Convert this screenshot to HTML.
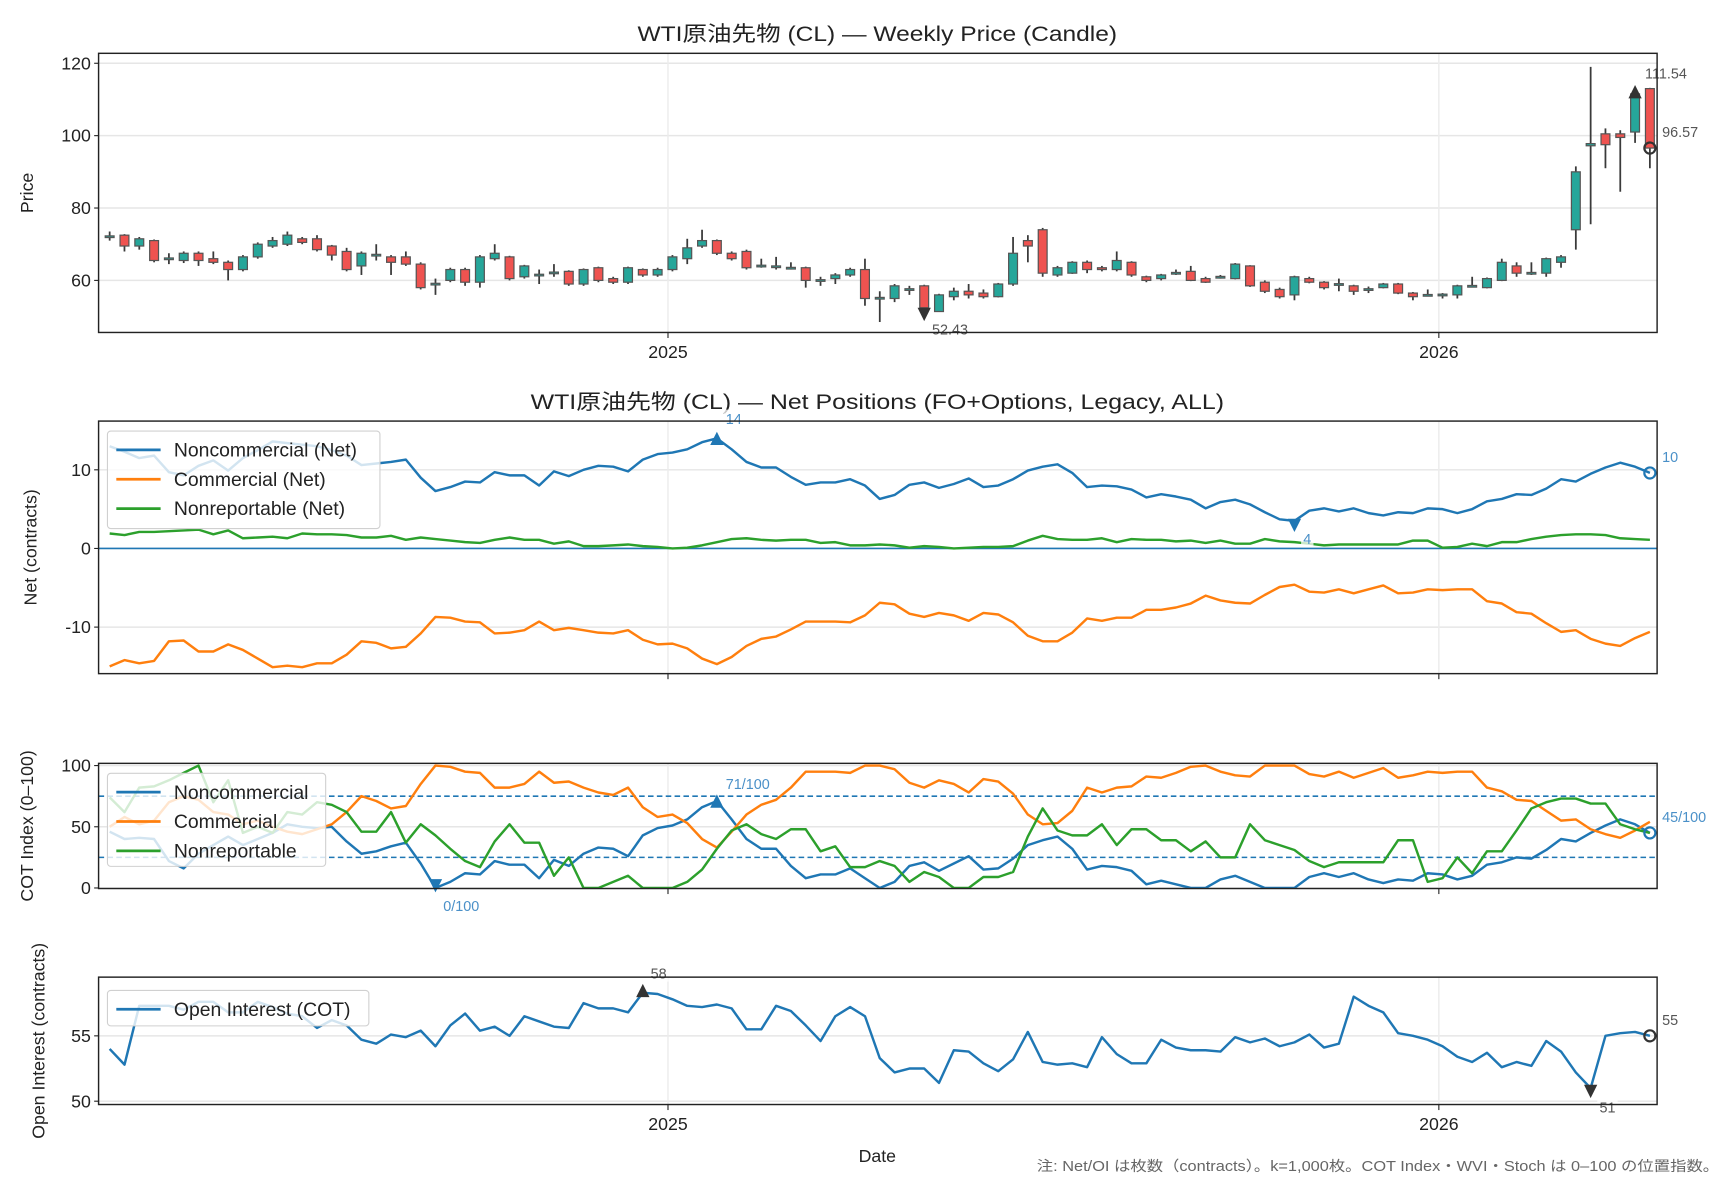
<!DOCTYPE html>
<html><head><meta charset="utf-8">
<style>
html,body{margin:0;padding:0;background:#fff;}
svg{display:block;font-family:"Liberation Sans","Noto Sans CJK JP",sans-serif;}
</style></head>
<body>
<svg id="chart" width="1728" height="1180" viewBox="0 0 1560 1065" xmlns="http://www.w3.org/2000/svg"></svg>
<script>
// ---- data ----
const opens  = [72,72.5,69.5,71,65.8,65.5,67.5,66,65,63,66.5,69.5,70,71.5,71.5,69.5,68,64,66.8,66.5,66.5,64.5,58.8,60,63,59.5,66,66.5,61,61.3,62,62.5,59,63.5,60.5,59.5,63,61.5,63,66,69.5,71,67.5,68,63.8,63.8,63.4,63.5,60,60.5,61.5,63,55,55,57.4,58.5,51.4,55.5,57,56.5,55.5,59,71,74,61.5,62,65,63.5,63,65,61,60.5,61.8,62.5,60.5,60.8,60.5,64,59.5,57.5,56,60.5,59.5,58.8,58.5,57.3,58,59,56.5,55.9,56,56,58.4,58,60,64,61.8,62,65,74,97.2,100.5,100.5,101,113];
const closes = [72.3,69.5,71.5,65.5,66.2,67.5,65.5,65,63,66.5,70,71,72.5,70.5,68.5,67,63,67.5,67.2,65,64.5,58,59.2,63,59.5,66.5,67.5,60.5,64,61.7,62.3,59,63,60,59.5,63.5,61.5,63,66.5,69,71,67.5,66,63.5,64.2,64,63.6,60,60.2,61.5,63,55,55.3,58.5,57.7,52.43,56,57,56,55.5,59,67.5,69.5,62,63.5,65,63,63,65.5,61.5,60,61.5,62.2,60,59.5,61.1,64.5,58.5,57,55.5,61,59.5,58,59.1,57,57.7,59,56.5,55.5,56.1,56.2,58.5,58.6,60.5,65,62,62.2,66,66.5,90,97.8,97.5,99.5,111.54,96.57];
const highs  = [73.5,72.8,72,71.3,67.5,68,68,68,65.5,67,70.5,72,73.5,72,72.5,69.8,69,68,70,67,68,65,60.5,63.5,63.5,67,70,66.8,64.3,63,64.5,62.8,63.3,63.8,61,63.8,63.3,63.5,67,71.5,74,71.3,68,68.5,66,66.5,65,63.8,61,62,63.5,66,57,59,58.5,58.8,56.3,58,59,57.5,59.3,72,72.5,74.5,64,65.3,65.5,64,68,65.3,61.3,61.8,63,64,61,61.5,64.8,64.2,60,58,61.3,61,59.8,60.5,58.8,58.3,59.3,59.3,56.8,57.5,56.5,58.8,61,60.8,66,65,65,66.3,67,91.5,119,102,101.5,113,113.2];
const lows   = [71,68,68.5,65,64.5,64.8,64,64.5,60,62.5,66,69,69.5,70,68,65.5,62.5,61.5,65.5,61.5,64,57.5,56,59.5,58.5,58,65.5,60,60.5,59,61,58.5,58.5,59.5,59,59,61,61,62.5,64.5,69,67,65.5,63,63.5,63,63,58,58.5,59,61,53,48.5,54,56,52.3,51.3,54.5,55,55,55.3,58.5,65,61,61,61.8,62,62.5,62.5,61,59.5,60,61.5,59.8,59.3,60.5,60.3,58.2,56.5,55,54.5,59.2,57.5,57,56,56.5,57.8,56.2,54.5,55.8,55,55,58.2,57.8,59.8,61,61.5,61,63.5,68.5,75.5,91,84.5,98,91];

const netNonComm = [13,12.3,11.5,11.8,9.7,9.3,10.5,11.2,9.9,11.5,12.5,13.6,13.4,13.2,13,12.5,11.8,10.6,10.8,11,11.3,9,7.3,7.8,8.5,8.4,9.7,9.3,9.3,8,9.8,9.2,10,10.5,10.4,9.8,11.3,12,12.2,12.6,13.5,14,12.6,11,10.3,10.3,9.1,8.1,8.4,8.4,8.8,8,6.3,6.8,8.1,8.4,7.7,8.2,8.9,7.8,8,8.8,9.9,10.4,10.7,9.6,7.8,8,7.9,7.5,6.5,6.9,6.6,6.2,5.1,5.9,6.2,5.6,4.6,3.7,3.5,4.8,5.1,4.7,5.1,4.5,4.2,4.6,4.5,5.1,5,4.5,5,6,6.3,6.9,6.8,7.6,8.8,8.5,9.5,10.3,10.9,10.4,9.6];
const netComm = [-15,-14.2,-14.6,-14.3,-11.8,-11.7,-13.1,-13.1,-12.2,-12.9,-14,-15.1,-14.9,-15.1,-14.6,-14.6,-13.5,-11.8,-12,-12.7,-12.5,-10.8,-8.7,-8.8,-9.3,-9.4,-10.8,-10.7,-10.4,-9.3,-10.4,-10.1,-10.4,-10.7,-10.8,-10.4,-11.6,-12.2,-12.1,-12.7,-14,-14.7,-13.8,-12.4,-11.5,-11.2,-10.3,-9.3,-9.3,-9.3,-9.4,-8.5,-6.9,-7.1,-8.3,-8.7,-8.2,-8.5,-9.2,-8.2,-8.4,-9.4,-11.1,-11.8,-11.8,-10.7,-8.9,-9.2,-8.8,-8.8,-7.8,-7.8,-7.5,-7,-6,-6.6,-6.9,-7,-5.9,-4.9,-4.6,-5.5,-5.6,-5.2,-5.7,-5.2,-4.7,-5.7,-5.6,-5.2,-5.3,-5.2,-5.2,-6.7,-7,-8.1,-8.3,-9.5,-10.6,-10.4,-11.5,-12.1,-12.4,-11.4,-10.6];
const netNonRep = [1.9,1.7,2.1,2.1,2.2,2.3,2.4,1.8,2.3,1.3,1.4,1.5,1.3,1.9,1.8,1.8,1.7,1.4,1.4,1.6,1.1,1.4,1.2,1,0.8,0.7,1.1,1.4,1.1,1.1,0.6,0.9,0.3,0.3,0.4,0.5,0.3,0.2,0,0.1,0.4,0.8,1.2,1.3,1.1,1,1.1,1.1,0.7,0.8,0.4,0.4,0.5,0.4,0.1,0.3,0.2,0,0.1,0.2,0.2,0.3,1,1.6,1.2,1.1,1.1,1.3,0.8,1.2,1.1,1.1,0.9,1,0.7,1,0.6,0.6,1.2,0.9,0.8,0.6,0.4,0.5,0.5,0.5,0.5,0.5,1,1,0.1,0.2,0.6,0.3,0.8,0.8,1.2,1.5,1.7,1.8,1.8,1.7,1.3,1.2,1.1];

const idxNonComm = [46,40,41,40,22,16,28,35,42,35,40,45,52,50,49,50,38,28,30,34,37,20,0,5,12,11,22,19,19,8,23,18,28,33,32,26,43,49,51,56,66,71,56,40,32,32,18,8,11,11,16,8,0,5,18,21,14,20,26,15,16,24,35,39,42,32,15,18,17,14,3,6,3,0,0,7,10,5,0,0,0,9,12,9,12,7,4,7,6,12,11,7,10,19,21,25,24,31,40,38,45,51,56,52,45];
const idxComm = [50,58,52,55,70,75,72,62,60,52,55,50,46,44,48,52,62,75,71,65,67,85,100,99,95,94,82,82,85,95,86,87,82,78,76,82,66,58,60,53,40,33,46,60,68,72,82,95,95,95,94,100,100,97,86,82,88,85,78,89,87,77,60,52,53,63,82,78,82,83,91,90,94,99,100,95,92,91,100,100,100,93,91,95,90,94,98,90,92,95,94,95,95,82,79,72,71,63,55,56,48,44,41,47,54];
const idxNonRep = [74,62,82,83,88,94,100,70,88,45,50,45,62,60,70,68,62,46,46,62,37,52,43,32,22,17,38,52,37,37,10,25,0,0,5,10,0,0,0,5,15,32,47,52,44,40,48,48,30,34,17,17,22,18,5,13,9,0,0,9,9,13,42,65,47,43,43,52,35,48,48,39,39,30,38,25,25,52,39,35,31,22,17,21,21,21,21,39,39,5,8,25,12,30,30,47,65,70,73,73,69,69,52,48,45];

const openInterest = [54,52.8,57.3,57.3,57.3,57,57.6,57.6,56.8,56.8,57.6,57.2,56.7,56.5,55.6,56.2,55.8,54.7,54.4,55.1,54.9,55.4,54.2,55.8,56.7,55.4,55.7,55,56.5,56.1,55.7,55.6,57.5,57.1,57.1,56.8,58.3,58.2,57.8,57.3,57.2,57.4,57.1,55.5,55.5,57.3,56.9,55.8,54.6,56.5,57.2,56.5,53.3,52.2,52.5,52.5,51.4,53.9,53.8,52.9,52.3,53.2,55.3,53,52.8,52.9,52.6,54.9,53.6,52.9,52.9,54.7,54.1,53.9,53.9,53.8,54.9,54.5,54.8,54.2,54.5,55.1,54.1,54.4,58,57.3,56.8,55.2,55,54.7,54.2,53.4,53,53.7,52.6,53,52.7,54.6,53.8,52.2,51,55,55.2,55.3,55];

const yearTicks = ["2025","2026"];
const yearTickIdx = [37.7,89.75];
const priceTicks = [60,80,100,120];
const netTicks = [-10,0,10];
const idxTicks = [0,50,100];
const oiTicks = [50,55];

// ---- axis functions ----
const X0 = 99, STEP = 13.37;
const xs = i => X0 + i*STEP;
const yP = v => 253 - (v-60)*3.267;
const yN = v => 495 - v*7.1;
const yC = v => 801.5 - v*1.105;
const yO = v => 994 - (v-50)*11.8;
const PX1 = 89, PX2 = 1496;

const svg = document.getElementById('chart');
const NS = 'http://www.w3.org/2000/svg';
function mk(tag, attrs, parent){
  const e = document.createElementNS(NS, tag);
  for (const k in attrs) e.setAttribute(k, attrs[k]);
  (parent||svg).appendChild(e);
  return e;
}
function txt(s, attrs, parent){ const t = mk('text', attrs, parent); t.textContent = s; return t; }

const panels = [
  {key:'price', top:48, bot:300, y:yP, ticks:priceTicks, title:'WTI原油先物 (CL) — Weekly Price (Candle)', tlen:433, ylab:'Price', ylx:30, xlabels:true},
  {key:'net', top:380, bot:608, y:yN, ticks:netTicks, title:'WTI原油先物 (CL) — Net Positions (FO+Options, Legacy, ALL)', tlen:626, ylab:'Net (contracts)', ylx:33, xlabels:false},
  {key:'index', top:689, bot:802, y:yC, ticks:idxTicks, title:null, ylab:'COT Index (0–100)', ylx:30, xlabels:false},
  {key:'oi', top:882, bot:997, y:yO, ticks:oiTicks, title:null, ylab:'Open Interest (contracts)', ylx:40, xlabels:true}
];
const groups = {};
panels.forEach(p=>{
  const g = mk('g', {});
  
  
  groups[p.key] = g;
  p.ticks.forEach(t=>{
    const yy = p.y(t);
    const gl = mk('line', {x1:PX1, x2:PX2, y1:yy, y2:yy, stroke:'#e6e6e6', 'stroke-width':1.3}, g);
    
    
    const tk = mk('line', {x1:PX1-4, x2:PX1, y1:yy, y2:yy, stroke:'#222', 'stroke-width':1}, g);
    
    
    const tl = txt(String(t), {x:PX1-7, y:yy+5.5, 'text-anchor':'end', 'font-size':16, fill:'#222'}, g);
    
    
  });
  yearTickIdx.forEach((ti,k)=>{
    const xx = xs(ti);
    const vg = mk('line', {x1:xx, x2:xx, y1:p.top, y2:p.bot, stroke:'#ececec', 'stroke-width':1.3}, g);
    
    
    const xt = mk('line', {x1:xx, x2:xx, y1:p.bot, y2:p.bot+5, stroke:'#222', 'stroke-width':1}, g);
    
    
    if (p.xlabels){
      const xl = txt(yearTicks[k], {x:xx, y:p.bot+23, 'text-anchor':'middle', 'font-size':16, fill:'#222'}, g);
      
      
    }
  });
  if (p.title){
    const tt = txt(p.title, {x:792, y:p.top-11, 'text-anchor':'middle', 'font-size':19, fill:'#222', textLength:p.tlen, lengthAdjust:'spacingAndGlyphs'}, g);
    
    
  }
  const cy = (p.top+p.bot)/2;
  const yl = txt(p.ylab, {x:p.ylx, y:cy, transform:'rotate(-90 '+p.ylx+' '+cy+')', 'text-anchor':'middle', 'font-size':16, fill:'#222'}, g);
  
  
});

function frame(p){
  const f = mk('rect', {x:PX1, y:p.top, width:PX2-PX1, height:p.bot-p.top, fill:'none', stroke:'#222', 'stroke-width':1.3}, groups[p.key]);
  
  
}
function clipFor(p){
  const cp = mk('clipPath', {id:'clip-'+p.key});
  mk('rect', {x:PX1, y:p.top, width:PX2-PX1, height:p.bot-p.top}, cp);
  return 'url(#clip-'+p.key+')';
}
function series(vals, yf, color, name, parent, clip){
  const d = vals.map((v,i)=>(i?'L':'M')+xs(i).toFixed(1)+' '+yf(v).toFixed(1)).join(' ');
  const pth = mk('path', {d:d, fill:'none', stroke:color, 'stroke-width':2.2, 'stroke-linejoin':'round', 'clip-path':clip}, parent);
  
  
  return pth;
}
function label(s, x, y, color, name, parent, anchor){
  const bb = mk('rect', {x:anchor==='end'?x-s.length*7.2-2:x-2, y:y-13, width:s.length*7.2+4, height:16, fill:'#fff', opacity:0.75}, parent);
  
  
  const t = txt(s, {x:x, y:y, 'font-size':13, fill:color, 'text-anchor':anchor||'start'}, parent);
  
  
}
function tri(x, y, up, color, name, parent){
  const s = 6;
  const pts = up ? [[x,y-s],[x-s,y+s],[x+s,y+s]] : [[x,y+s],[x-s,y-s],[x+s,y-s]];
  const m = mk('polygon', {points:pts.map(p=>p.join(',')).join(' '), fill:color}, parent);
  
  
}
function ring(x, y, color, name, parent){
  const c = mk('circle', {cx:x, cy:y, r:5, fill:'none', stroke:color, 'stroke-width':2}, parent);
  
  
}
function legend(items, x, y, w, h, key){
  const g = mk('g', {});
  
  
  const r = mk('rect', {x:x, y:y, width:w, height:h, rx:3, fill:'#fff', 'fill-opacity':0.8, stroke:'#d0d0d0'}, g);
  
  
  items.forEach((it,k)=>{
    const yy = y+17+k*26.5;
    const ln = mk('line', {x1:x+8, x2:x+48, y1:yy, y2:yy, stroke:it[1], 'stroke-width':2.5}, g);
    
    
    const t = txt(it[0], {x:x+60, y:yy+6, 'font-size':17.5, fill:'#222'}, g);
    
    
  });
}

// ---- price candles ----
const gp = groups.price;
const clipP = clipFor(panels[0]);
opens.forEach((o,i)=>{
  const c = closes[i], x = xs(i);
  const up = c >= o;
  const w = mk('line', {x1:x, x2:x, y1:yP(highs[i]), y2:yP(lows[i]), stroke:'#3a3a3a', 'stroke-width':1.6, 'clip-path':clipP}, gp);
  
  
  const top = yP(Math.max(o,c)), bh = Math.max(1.5, yP(Math.min(o,c)) - top);
  const b = mk('rect', {x:x-4, y:top, width:8, height:bh, fill:up?'#26a69a':'#ef5350', stroke:'#555', 'stroke-width':1.1, 'clip-path':clipP}, gp);
  
  
});
let iMax = 0, iMin = 0;
closes.forEach((c,i)=>{ if (c>closes[iMax]) iMax=i; if (c<closes[iMin]) iMin=i; });
tri(xs(iMax), yP(closes[iMax])-2, true, '#333', 'price-max-marker', gp);
label(closes[iMax].toFixed(2), xs(iMax)+9, yP(closes[iMax])-14, '#555', 'price-max-label', gp);
tri(xs(iMin), yP(closes[iMin])+6, false, '#333', 'price-min-marker', gp);
label(closes[iMin].toFixed(2), xs(iMin)+7, yP(closes[iMin])+24, '#555', 'price-min-label', gp);
const iLast = closes.length-1;
ring(xs(iLast), yP(closes[iLast]), '#333', 'price-last-marker', gp);
label(closes[iLast].toFixed(2), xs(iLast)+11, yP(closes[iLast])-10, '#555', 'price-last-label', gp);
frame(panels[0]);

// ---- net positions ----
const gn = groups.net;
const clipN = clipFor(panels[1]);
const zl = mk('line', {x1:PX1, x2:PX2, y1:yN(0), y2:yN(0), stroke:'#1f77b4', 'stroke-width':1.5}, gn);


series(netNonComm, yN, '#1f77b4', 'net-noncommercial-line', gn, clipN);
series(netComm, yN, '#ff7f0e', 'net-commercial-line', gn, clipN);
series(netNonRep, yN, '#2ca02c', 'net-nonreportable-line', gn, clipN);
let nMax=0,nMin=0; netNonComm.forEach((v,i)=>{ if(v>netNonComm[nMax]) nMax=i; if(v<netNonComm[nMin]) nMin=i; });
tri(xs(nMax), yN(netNonComm[nMax]), true, '#1f77b4', 'net-max-marker', gn);
label(String(Math.round(netNonComm[nMax])), xs(nMax)+8, yN(netNonComm[nMax])-13, '#4a90c8', 'net-max-label', gn);
tri(xs(nMin), yN(netNonComm[nMin])+4, false, '#1f77b4', 'net-min-marker', gn);
label(String(Math.round(netNonComm[nMin])), xs(nMin)+8, yN(netNonComm[nMin])+21, '#4a90c8', 'net-min-label', gn);
const nl = netNonComm.length-1;
ring(xs(nl), yN(netNonComm[nl]), '#1f77b4', 'net-last-marker', gn);
label(String(Math.round(netNonComm[nl])), xs(nl)+11, yN(netNonComm[nl])-10, '#4a90c8', 'net-last-label', gn);
frame(panels[1]);
legend([['Noncommercial (Net)','#1f77b4'],['Commercial (Net)','#ff7f0e'],['Nonreportable (Net)','#2ca02c']], 97, 389, 246, 88, 'net');

// ---- COT index ----
const gc = groups.index;
const clipC = clipFor(panels[2]);
[75,25].forEach(v=>{
  const dl = mk('line', {x1:PX1, x2:PX2, y1:yC(v), y2:yC(v), stroke:'#1f77b4', 'stroke-width':1.4, 'stroke-dasharray':'5,3'}, gc);
  
  
});
series(idxNonComm, yC, '#1f77b4', 'index-noncommercial-line', gc, clipC);
series(idxComm, yC, '#ff7f0e', 'index-commercial-line', gc, clipC);
series(idxNonRep, yC, '#2ca02c', 'index-nonreportable-line', gc, clipC);
let cMax=0,cMin=0; idxNonComm.forEach((v,i)=>{ if(v>idxNonComm[cMax]) cMax=i; if(v<idxNonComm[cMin]) cMin=i; });
tri(xs(cMax), yC(idxNonComm[cMax]), true, '#1f77b4', 'index-max-marker', gc);
label(idxNonComm[cMax]+'/100', xs(cMax)+8, yC(idxNonComm[cMax])-11, '#4a90c8', 'index-max-label', gc);
tri(xs(cMin), yC(idxNonComm[cMin])-2, false, '#1f77b4', 'index-min-marker', gc);
label(idxNonComm[cMin]+'/100', xs(cMin)+7, yC(idxNonComm[cMin])+21, '#4a90c8', 'index-min-label', gc);
const cl = idxNonComm.length-1;
ring(xs(cl), yC(idxNonComm[cl]), '#1f77b4', 'index-last-marker', gc);
label(idxNonComm[cl]+'/100', xs(cl)+11, yC(idxNonComm[cl])-10, '#4a90c8', 'index-last-label', gc);
frame(panels[2]);
legend([['Noncommercial','#1f77b4'],['Commercial','#ff7f0e'],['Nonreportable','#2ca02c']], 97, 698, 197, 84, 'index');

// ---- open interest ----
const go = groups.oi;
const clipO = clipFor(panels[3]);
series(openInterest, yO, '#1f77b4', 'open-interest-line', go, clipO);
let oMax=0,oMin=0; openInterest.forEach((v,i)=>{ if(v>openInterest[oMax]) oMax=i; if(v<openInterest[oMin]) oMin=i; });
tri(xs(oMax), yO(openInterest[oMax])-2, true, '#333', 'oi-max-marker', go);
label(String(Math.round(openInterest[oMax])), xs(oMax)+7, yO(openInterest[oMax])-13, '#555', 'oi-max-label', go);
tri(xs(oMin), yO(openInterest[oMin])+3, false, '#333', 'oi-min-marker', go);
label(String(Math.round(openInterest[oMin])), xs(oMin)+8, yO(openInterest[oMin])+22, '#555', 'oi-min-label', go);
const ol = openInterest.length-1;
ring(xs(ol), yO(openInterest[ol]), '#333', 'oi-last-marker', go);
label(String(Math.round(openInterest[ol])), xs(ol)+11, yO(openInterest[ol])-10, '#555', 'oi-last-label', go);
frame(panels[3]);
legend([['Open Interest (COT)','#1f77b4']], 97, 894, 236, 32, 'oi');

const xt = txt('Date', {x:792, y:1049, 'text-anchor':'middle', 'font-size':16, fill:'#222'});


const note = txt('注: Net/OI は枚数（contracts）。k=1,000枚。COT Index・WVI・Stoch は 0–100 の位置指数。', {x:936, y:1057, 'font-size':13, fill:'#666', textLength:616, lengthAdjust:'spacingAndGlyphs'});


</script>
</body></html>
